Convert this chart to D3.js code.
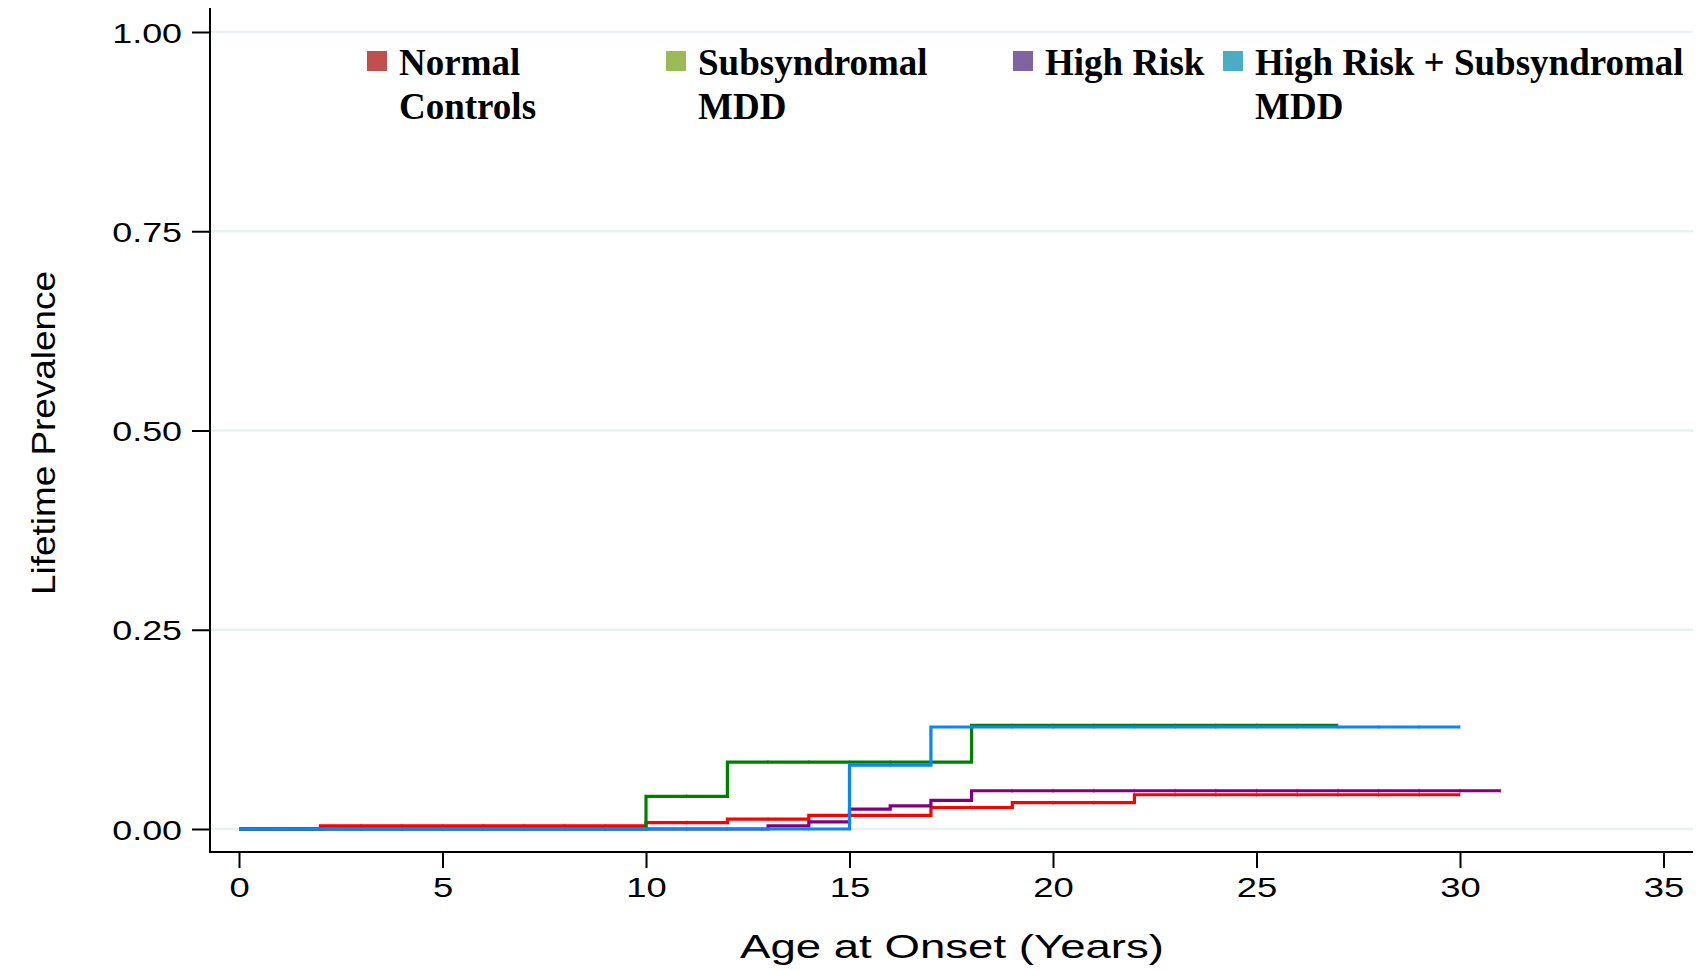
<!DOCTYPE html>
<html>
<head>
<meta charset="utf-8">
<script src="https://cdn.jsdelivr.net/npm/d3@7"></script>
<style>
  html, body { margin: 0; padding: 0; background: #ffffff; }
  svg { display: block; }
</style>
</head>
<body>
<svg id="chart" width="1696" height="970"></svg>
<script>
// ---- Data (Kaplan-Meier style cumulative prevalence) ----
const seriesNames = ["Normal Controls", "Subsyndromal MDD", "High Risk", "High Risk + Subsyndromal MDD"];
const legendLines = [["Normal", "Controls"], ["Subsyndromal", "MDD"], ["High Risk"], ["High Risk + Subsyndromal", "MDD"]];

const normalTimes  = [0, 2, 10, 12, 14, 17, 19, 22];
const normalValues = [0, 0.004, 0.008, 0.0125, 0.017, 0.027, 0.033, 0.043];
const normalEnd = 30;

const subTimes  = [0, 10, 12, 18];
const subValues = [0, 0.041, 0.084, 0.130];
const subEnd = 27;

const highRiskTimes  = [0, 13, 14, 15, 16, 17, 18];
const highRiskValues = [0, 0.004, 0.009, 0.025, 0.029, 0.036, 0.048];
const highRiskEnd = 31;

const hrSubTimes  = [0, 15, 17];
const hrSubValues = [0, 0.080, 0.128];
const hrSubEnd = 30;

const xTicks = [0, 5, 10, 15, 20, 25, 30, 35];
const yTicks = [0, 0.25, 0.5, 0.75, 1.0];

const lineColors   = ["#ff0000", "#008000", "#800080", "#0a84ff"];
const legendColors = ["#c0504d", "#9bbb59", "#8064a2", "#4bacc6"];

// ---- Layout ----
const svg = d3.select("#chart");
const x = d3.scaleLinear().domain([0, 35]).range([239, 1663.5]);
const y = d3.scaleLinear().domain([0, 1]).range([829, 32]);
const axisX0 = 210, axisRight = 1693, axisY0 = 852, axisTop = 8;

function stretch(sel, factor) {
  sel.each(function () {
    const len = this.getComputedTextLength();
    d3.select(this).attr("textLength", len * factor).attr("lengthAdjust", "spacingAndGlyphs");
  });
}

// gridlines
svg.append("g").selectAll("line").data(yTicks).join("line")
  .attr("x1", axisX0).attr("x2", axisRight)
  .attr("y1", d => y(d)).attr("y2", d => y(d))
  .attr("stroke", "#e9f1f3").attr("stroke-width", 2.5);

// y axis
const yAxis = svg.append("g").attr("transform", `translate(${axisX0},0)`)
  .call(d3.axisLeft(y).tickValues(yTicks).tickFormat(d3.format(".2f")).tickSize(18).tickPadding(10));
yAxis.select(".domain").remove();
yAxis.selectAll(".tick line").attr("stroke", "#000").attr("stroke-width", 2);
yAxis.selectAll(".tick text").attr("font-family", "'Liberation Sans', Arial, sans-serif")
  .attr("font-size", 28).attr("fill", "#000").attr("dy", "0.36em");
stretch(yAxis.selectAll(".tick text"), 1.28);

// x axis
const xAxis = svg.append("g").attr("transform", `translate(0,${axisY0})`)
  .call(d3.axisBottom(x).tickValues(xTicks).tickFormat(d3.format("d")).tickSize(16).tickPadding(9));
xAxis.select(".domain").remove();
xAxis.selectAll(".tick line").attr("stroke", "#000").attr("stroke-width", 2);
xAxis.selectAll(".tick text").attr("font-family", "'Liberation Sans', Arial, sans-serif")
  .attr("font-size", 28).attr("fill", "#000").attr("dy", "0.72em");
stretch(xAxis.selectAll(".tick text"), 1.3);

// axis lines
svg.append("line").attr("x1", axisX0).attr("x2", axisX0).attr("y1", axisTop).attr("y2", axisY0 + 1)
  .attr("stroke", "#000").attr("stroke-width", 2);
svg.append("line").attr("x1", axisX0 - 1).attr("x2", axisRight).attr("y1", axisY0).attr("y2", axisY0)
  .attr("stroke", "#000").attr("stroke-width", 2);

// axis titles
const xt = svg.append("text").attr("x", 952).attr("y", 958).attr("text-anchor", "middle")
  .attr("font-family", "'Liberation Sans', Arial, sans-serif").attr("font-size", 34).attr("fill", "#000")
  .text("Age at Onset (Years)");
xt.attr("textLength", 424).attr("lengthAdjust", "spacingAndGlyphs");

const yt = svg.append("text").attr("transform", "translate(55,433) rotate(-90)").attr("text-anchor", "middle")
  .attr("font-family", "'Liberation Sans', Arial, sans-serif").attr("font-size", 34).attr("fill", "#000")
  .text("Lifetime Prevalence");
yt.attr("textLength", 324).attr("lengthAdjust", "spacingAndGlyphs");

// ---- Step lines ----
const series = [
  { times: normalTimes, values: normalValues, end: normalEnd },
  { times: subTimes, values: subValues, end: subEnd },
  { times: highRiskTimes, values: highRiskValues, end: highRiskEnd },
  { times: hrSubTimes, values: hrSubValues, end: hrSubEnd }
].map((s, i) => {
  const pts = s.times.map((t, j) => [t, s.values[j]]);
  pts.push([s.end, s.values[s.values.length - 1]]);
  return { name: seriesNames[i], color: lineColors[i], pts, start: s.times[0], end: s.end, times: s.times, values: s.values };
});

const line = d3.line().x(d => x(d[0])).y(d => y(d[1])).curve(d3.curveStepAfter);
const drawOrder = [0, 2, 1, 3];
drawOrder.forEach(i => {
  const s = series[i];
  const g = svg.append("g");
  g.append("path").attr("d", line(s.pts)).attr("fill", "none")
    .attr("stroke", s.color).attr("stroke-width", 3.2).attr("stroke-linejoin", "miter");
  // small censoring ticks at integer ages
  const marks = d3.range(Math.ceil(s.start) + 1, s.end + 1).filter(t => !s.times.includes(t));
  const valAt = t => { let v = s.values[0]; s.times.forEach((tt, j) => { if (tt <= t) v = s.values[j]; }); return v; };
  g.selectAll("line").data(marks).join("line")
    .attr("x1", d => x(d)).attr("x2", d => x(d))
    .attr("y1", d => y(valAt(d)) - 2).attr("y2", d => y(valAt(d)) + 2)
    .attr("stroke", s.color).attr("stroke-width", 1.2).attr("opacity", 0.5);
});

// ---- Legend ----
const legendSquareX = [367, 666, 1013, 1223];
const lg = svg.append("g");
legendLines.forEach((lines, i) => {
  lg.append("rect").attr("x", legendSquareX[i]).attr("y", 51).attr("width", 20).attr("height", 20)
    .attr("fill", legendColors[i]);
  const t = lg.append("text").attr("x", legendSquareX[i] + 32).attr("y", 75)
    .attr("font-family", "'Liberation Serif', 'Times New Roman', serif").attr("font-weight", "bold")
    .attr("font-size", 37).attr("fill", "#000");
  lines.forEach((ln, k) => {
    t.append("tspan").attr("x", legendSquareX[i] + 32).attr("dy", k === 0 ? 0 : 44).text(ln);
  });
});
</script>
</body>
</html>
